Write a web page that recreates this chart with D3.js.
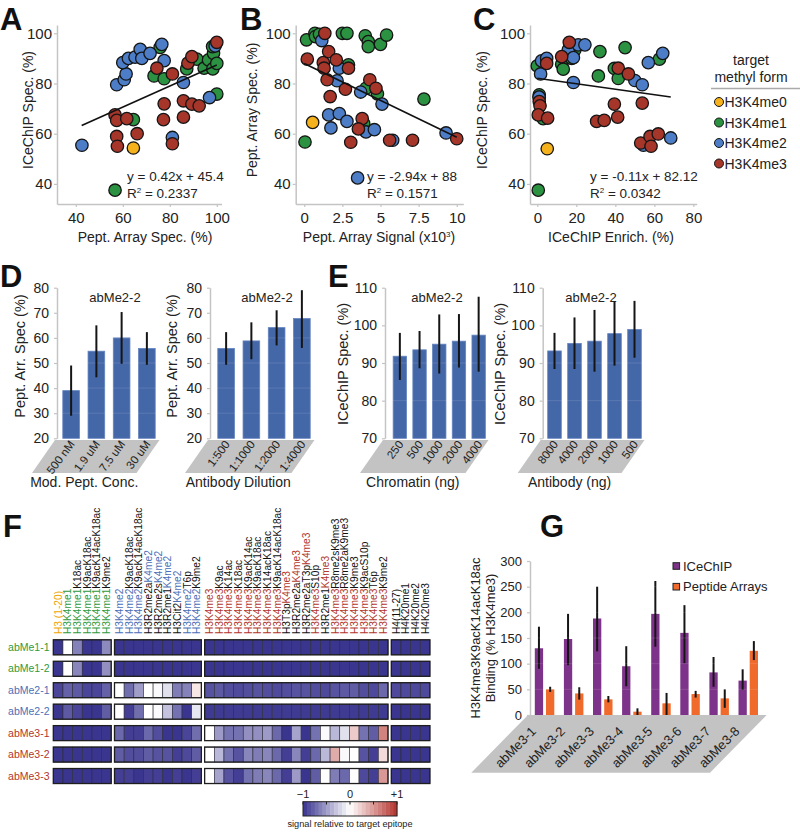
<!DOCTYPE html>
<html><head><meta charset="utf-8">
<script src="https://cdn.jsdelivr.net/npm/d3@7"></script>
<style>body{margin:0;background:#fff}svg{display:block;font-family:"Liberation Sans",Arial,sans-serif}</style>
</head><body><svg id="c" width="800" height="836"></svg>
<script>
// ---------------- DATA ----------------
// Scatter A: x = Pept. Array Spec (%), y = ICeChIP Spec (%)
const A_me0 = [[64.5,54.3]];
const A_me1 = [[75.9,94.4],[73.3,83],[77.6,81.9],[87.2,85.8],[91.5,89.7],[94.6,86.1],[96.5,89.4],[98.3,85.8],[98.6,92],[100,88],[98.2,94.7],[100,75.8],[64.5,65.6],[56.7,37.5]];
const A_me2 = [[42.6,55.4],[57.4,79.5],[60.6,81.5],[61.4,83.8],[60,88.3],[62.4,90],[65.2,90.5],[67.4,93.6],[68.1,90],[71.6,92],[76.6,95.6],[77.6,89.1],[85.8,80.4],[81.1,58.5],[96.9,74.4],[99.3,95]];
const A_me3 = [[74.5,86.1],[81.1,83.8],[87.7,88.1],[89.4,90.7],[100,96.4],[56.7,67.5],[57.4,65.3],[61.7,66],[77.6,71.9],[77.3,65.6],[85.8,73.1],[89.4,71.8],[92.5,71.1],[85.8,66.6],[57.4,58.9],[57.7,55],[66.1,60],[81.1,56]];
// Scatter B: x = Pept. Array Signal (x10^3), y = Pept. Array Spec (%)
const B_me0 = [[0.55,64.5]];
const B_me1 = [[0.15,97.4],[0.7,100],[0.74,98.7],[1.0,99.6],[2.5,100],[2.8,100],[4.0,99],[4.2,96.7],[4.2,94.7],[5.0,95.6],[5.4,99.3],[2.9,87.4],[4.05,78.1],[4.8,75.9],[7.85,73.8],[3.9,64],[0.05,56.7]];
const B_me2 = [[1.15,97.1],[2.3,86.1],[2.15,81.1],[3.7,76.6],[5.1,71.8],[1.6,67.5],[2.3,68],[1.75,62.3],[2.8,64.9],[4.05,60.7],[4.6,61.6],[5.8,57.4],[9.3,60.3],[3.5,42.4]];
const B_me3 = [[1.35,100],[0.2,89.7],[1.25,88.3],[1.3,86.1],[1.6,92.7],[2.1,89.4],[2.9,86.1],[1.5,81.5],[1.7,74.8],[2.7,77.7],[4.3,81.5],[4.7,78.1],[3.8,66],[3.55,61.9],[3.05,56.6],[5.6,57.4],[7.1,57.4],[10.0,58]];
// Scatter C: x = ICeChIP Enrich. (%), y = ICeChIP Spec (%)
const C_me0 = [[5.1,54]];
const C_me1 = [[0,87],[1,75.5],[1,74.6],[3,66],[0.5,37.5],[12.5,87.7],[13.3,85.7],[17.6,90],[19.3,93.4],[32.1,92.7],[31.3,83],[39.5,86],[41.5,82],[45,94.3],[62.6,89.7]];
const C_me2 = [[1.7,83.8],[2.2,89],[4.8,90],[0.9,74.6],[15.9,93.4],[18.5,90.3],[21,95.4],[24.4,95.4],[18.5,80.4],[50,81.2],[53.8,79.5],[56.9,88.3],[64.3,92],[68.4,58.3],[54.4,55.4]];
const C_me3 = [[4.8,88],[12.5,90.7],[16.4,96.4],[41.5,86.1],[46.7,83.8],[1,72.8],[1.4,71.1],[0.5,67.5],[5.3,66.2],[39.5,71.8],[53.8,72.2],[41.2,66.6],[30.4,64.9],[34.3,65.3],[53,56.3],[57.8,58.9],[62,59.9],[58.3,55]];
// Linear fits [slope, intercept, xStart, xEnd]
const fitA = [0.42, 45.4, 42.5, 100];
const fitB = [-2.94, 88, 0, 10];
const fitC = [-0.11, 82.12, 0, 68.4];
const methylForms = ["H3K4me0","H3K4me1","H3K4me2","H3K4me3"];
const scatterYTicks = [40,60,80,100];

// Panel D
const dConcCats = ["500 nM","1.9 uM","7.5 uM","30 uM"];
const dConcVals = [39, 54.7, 60, 55.8];
const dConcErr = [[29,49],[44.3,65],[49.7,70.3],[49.3,62.3]];
const dDilCats = ["1:500","1:1000","1:2000","1:4000"];
const dDilVals = [55.8, 58.8, 64.1, 67.7];
const dDilErr = [[49.3,62.3],[51.5,66.2],[57,71],[56,79]];
const dTicks = [20,30,40,50,60,70,80];
// Panel E
const eChromCats = ["250","500","1000","2000","4000"];
const eChromVals = [91.8, 93.5, 95, 95.8, 97.4];
const eChromErr = [[85.5,98],[88.6,98.5],[87.2,102.9],[88.8,103],[87.7,107.6]];
const eAbCats = ["8000","4000","2000","1000","500"];
const eAbVals = [93.2, 95.2, 95.8, 97.8, 98.9];
const eAbErr = [[88.4,98],[88.4,102.1],[87.7,104.1],[89.3,106.3],[91.4,106.5]];
const eTicks = [70,80,90,100,110];

// Panel F heatmap
const hmRows = ["abMe1-1","abMe1-2","abMe2-1","abMe2-2","abMe3-1","abMe3-2","abMe3-3"];
const hmGroup1 = ["H3 (1-20)","H3K4me1","H3K4me1K18ac","H3K4me1K9acK18ac","H3K4me1K9acK14acK18ac","H3K4me1K9me2"];
const hmGroup2 = ["H3K4me2","H3K4me2K9acK18ac","H3K4me2K9acK14acK18ac","H3R2me2aK4me2","H3R2me2sK4me2","H3R2me1K4me2","H3Cit2K4me2","H3K4me2T6p","H3K4me2K9me2"];
const hmGroup3 = ["H3K4me3","H3K4me3K9ac","H3K4me3K14ac","H3K4me3K18ac","H3K4me3K9acK14ac","H3K4me3K9acK18ac","H3K4me3K14acK18ac","H3K4me3K9acK14acK18ac","H3T3pK4me3","H3R2me2aK4me3","H3R2me2aT3pK4me3","H3K4me3S10p","H3R2me1K4me3","H3K4me3R8me2sK9me3","H3K4me3R8me2aK9me3","H3K4me3K9me3","H3K4me3K9acS10p","H3K4me3T6p","H3K4me3K9me2"];
const hmGroup4 = ["H4(11-27)","H4K20me1","H4K20me2","H4K20me3"];
const hmValues = [
 [-1,0,-0.62,-1,-1,-0.58, -1,-1,-1,-1,-1,-1,-1,-1,-1, -1,-1,-1,-1,-1,-1,-1,-1,-1,-1,-1,-1,-1,-1,-1,-1,-1,-1,-1, -1,-1,-1,-1],
 [-1,0,-0.6,-1,-1,-0.55, -1,-1,-1,-1,-1,-1,-1,-1,-1, -1,-1,-1,-1,-1,-1,-1,-1,-1,-1,-1,-1,-1,-1,-1,-1,-1,-1,-1, -1,-1,-1,-1],
 [-0.92,-0.78,-0.82,-0.92,-0.92,-0.78, 0,-0.72,-0.48,0,-0.03,-0.15,-0.65,-0.62,0.12, -0.85,-0.82,-0.88,-0.9,-0.88,-0.85,-0.88,-0.9,-0.88,-0.85,-0.85,-0.88,-0.9,-0.85,-0.82,-0.8,-0.88,-0.9,-0.75, -0.9,-0.9,-0.9,-0.9],
 [-1,-0.82,-0.92,-1,-1,-0.8, 0,-0.95,-0.72,0,-0.02,-0.3,-0.7,-1,-0.12, -0.97,-0.97,-0.97,-0.97,-0.97,-0.97,-0.97,-0.97,-0.97,-0.97,-0.97,-0.97,-0.97,-0.97,-0.97,-0.97,-0.97,-0.97,-0.97, -1,-1,-1,-1],
 [-1,-1,-1,-1,-1,-1, -0.75,-0.95,-0.95,-0.75,-0.88,-1,-1,-0.92,-0.72, 0,-0.5,-0.7,-0.7,-0.55,-0.55,-0.5,-0.75,-1,-0.45,-1,-0.7,-0.02,-0.35,-0.15,0.25,-0.7,-0.8,0.6, -1,-1,-1,-1],
 [-1,-1,-1,-1,-1,-1, -0.8,-0.88,-0.88,-0.8,-0.85,-0.85,-0.95,-0.9,-0.8, 0,-0.35,-0.7,-0.85,-0.6,-0.65,-0.6,-0.75,-0.95,-0.6,-0.95,-0.75,-0.35,0.4,-0.03,0,-0.85,-0.95,0.18, -1,-1,-1,-1],
 [-1,-1,-1,-1,-1,-1, -0.95,-0.95,-1,-0.95,-0.95,-1,-0.95,-1,-0.95, 0,-0.45,-0.85,-0.95,-0.7,-0.65,-0.6,-0.75,-0.95,-0.5,-1,-0.8,0,-0.65,-0.75,0,-0.9,-0.95,0.5, -1,-1,-1,-1]
];
const cbTicks = [-1,0,1];
const cbTickLabels = ["\u22121","0","+1"];

// Panel G
const gLabels = ["abMe3-1","abMe3-2","abMe3-3","abMe3-4","abMe3-5","abMe3-6","abMe3-7","abMe3-8"];
const gIce = [130, 148, 188, 95, 197, 160, 83, 67];
const gIceErr = [[90,172],[97,197],[124,250],[56,134],[133,261],[101,214],[55,113],[49,89]];
const gPep = [50, 42, 30.5, 6.5, 22.7, 40.8, 32.4, 125];
const gPepErr = [[45,55],[30,54],[24.6,37],[0,13],[0,43],[34,47],[14,50],[107,144]];
const gTicks = [0,50,100,150,200,250,300];
const gSeries = ["ICeChIP","Peptide Arrays"];

// ---------------- STYLE ----------------
const COL = {me0:"#f6b21c", me1:"#2b9242", me2:"#4c7dc6", me3:"#a6352a"};
const TXT = {y:"#f0a500", g:"#2f9a3c", b:"#4a70b8", r:"#b3362b"};
const BAR = "#4467a8";
const AX = "#c4c4c4";
const svg = d3.select("#c");

function styleAxis(sel, fs){
  sel.select(".domain").attr("stroke",AX).attr("stroke-width",1.5);
  sel.selectAll(".tick line").attr("stroke",AX).attr("stroke-width",1.2);
  sel.selectAll(".tick text").attr("fill","#222").attr("font-size",fs).attr("font-family","Liberation Sans, Arial, sans-serif");
}
function letter(t,x,y){
  svg.append("text").attr("x",x).attr("y",y).attr("font-size",31).attr("font-weight","bold").attr("fill","#111").text(t);
}

// ---------------- SCATTERS ----------------
function scatter(cfg){
  const x = d3.scaleLinear().domain(cfg.xDomain).range(cfg.xRange);
  const y = d3.scaleLinear().domain([32,103.3]).range([204,25]);
  const g = svg.append("g");
  g.append("g").attr("transform",`translate(${cfg.xRange[0]},0)`)
    .call(d3.axisLeft(y).tickValues(scatterYTicks).tickSize(3).tickSizeOuter(0).tickPadding(2))
    .call(styleAxis,15);
  g.append("g").attr("transform","translate(0,204)")
    .call(d3.axisBottom(x).tickValues(cfg.xTicks).tickFormat(cfg.fmt||d3.format("d")).tickSize(3).tickSizeOuter(0).tickPadding(5))
    .call(styleAxis,15);
  const series = [[cfg.d[1],COL.me1],[cfg.d[2],COL.me2],[cfg.d[3],COL.me3],[cfg.d[0],COL.me0]];
  series.forEach(([data,c])=>{
    g.selectAll(null).data(data).join("circle")
      .attr("cx",d=>x(d[0])).attr("cy",d=>y(d[1])).attr("r",6.2)
      .attr("fill",c).attr("stroke","#151515").attr("stroke-width",1.3);
  });
  const f = cfg.fit;
  g.append("line").attr("x1",x(f[2])).attr("y1",y(f[0]*f[2]+f[1]))
    .attr("x2",x(f[3])).attr("y2",y(f[0]*f[3]+f[1])).attr("stroke","#111").attr("stroke-width",1.6);
  g.append("text").attr("x",cfg.eqX).attr("y",181).attr("font-size",13.5).attr("fill","#222").text(cfg.eq);
  const r = g.append("text").attr("x",cfg.eqX).attr("y",198).attr("font-size",13.5).attr("fill","#222");
  r.append("tspan").text("R");
  r.append("tspan").attr("font-size",8).attr("dy",-5).text("2");
  r.append("tspan").attr("dy",5).text(" = "+cfg.r2);
  g.append("text").attr("transform",`translate(${cfg.yTitleX},110) rotate(-90)`).attr("text-anchor","middle")
    .attr("font-size",14).attr("fill","#222").text(cfg.yTitle);
  g.append("text").attr("x",cfg.xTitleX).attr("y",242).attr("text-anchor","middle")
    .attr("font-size",14).attr("fill","#222").text(cfg.xTitle);
}
scatter({xDomain:[32,102],xRange:[57,221.5],xTicks:[40,60,80,100],d:[A_me0,A_me1,A_me2,A_me3],fit:fitA,
  eq:"y = 0.42x + 45.4",r2:"0.2337",eqX:127,yTitle:"ICeChIP Spec. (%)",yTitleX:33,xTitle:"Pept. Array Spec. (%)",xTitleX:145});
scatter({xDomain:[-0.56,10.43],xRange:[295.7,463.3],xTicks:[0,2.5,5,7.5,10],fmt:d=>String(d),d:[B_me0,B_me1,B_me2,B_me3],fit:fitB,
  eq:"y = -2.94x + 88",r2:"0.1571",eqX:367,yTitle:"Pept. Array Spec. (%)",yTitleX:257,xTitle:"",xTitleX:379});
svg.append("text").attr("x",379).attr("y",242).attr("text-anchor","middle").attr("font-size",14).attr("fill","#222")
  .call(t=>{t.append("tspan").text("Pept. Array Signal (x10");t.append("tspan").attr("font-size",8).attr("dy",-5).text("3");t.append("tspan").attr("dy",5).text(")");});
scatter({xDomain:[-3.74,81.7],xRange:[530,696.7],xTicks:[0,20,40,60,80],d:[C_me0,C_me1,C_me2,C_me3],fit:fitC,
  eq:"y = -0.11x + 82.12",r2:"0.0342",eqX:590,yTitle:"ICeChIP Spec. (%)",yTitleX:487,xTitle:"ICeChIP Enrich. (%)",xTitleX:611});
letter("A",0,30); letter("B",240,30); letter("C",473,30);

// legend
svg.append("text").attr("x",751).attr("y",65).attr("text-anchor","middle").attr("font-size",14).attr("fill","#222").text("target");
svg.append("text").attr("x",751).attr("y",82).attr("text-anchor","middle").attr("font-size",14).attr("fill","#222").text("methyl form");
svg.append("line").attr("x1",711).attr("x2",800).attr("y1",88.5).attr("y2",88.5).attr("stroke","#aaa").attr("stroke-width",1.5);
const legY = d3.scalePoint().domain(methylForms).range([102,163.5]);
const legCol = [COL.me0,COL.me1,COL.me2,COL.me3];
methylForms.forEach((m,i)=>{
  svg.append("circle").attr("cx",719).attr("cy",legY(m)).attr("r",4.5).attr("fill",legCol[i]).attr("stroke","#151515").attr("stroke-width",1);
  svg.append("text").attr("x",724.5).attr("y",legY(m)).attr("dy","0.36em").attr("font-size",14).attr("fill","#222").text(m);
});

// ---------------- BAR CHARTS D/E ----------------
function barChart(cfg){
  const y = d3.scaleLinear().domain(cfg.yDomain).range([438.3,287.7]);
  const x = d3.scaleBand().domain(cfg.cats).range(cfg.xRange).paddingInner(cfg.pad).paddingOuter(cfg.pad/2);
  const g = svg.append("g");
  const ax = cfg.axisX, xr = cfg.xRange[1];
  g.append("polygon").attr("points",[[ax-2,440],[xr,440],[xr-23,473],[ax-25,473]].map(p=>p.join(",")).join(" "))
    .attr("fill","#c3c3c3");
  g.append("g").attr("transform",`translate(${ax},0)`)
    .call(d3.axisLeft(y).tickValues(cfg.ticks).tickSize(3).tickSizeOuter(0).tickPadding(5))
    .call(styleAxis,14);
  g.selectAll(null).data(cfg.vals).join("rect")
    .attr("x",(d,i)=>x(cfg.cats[i])).attr("width",x.bandwidth())
    .attr("y",d=>y(d)).attr("height",d=>y(cfg.yDomain[0])-y(d))
    .attr("fill",BAR).attr("stroke","#6484c0").attr("stroke-width",0.8);
  g.selectAll(null).data(cfg.ticks.slice(1)).join("line")
    .attr("x1",ax+1).attr("x2",xr).attr("y1",d=>y(d)).attr("y2",d=>y(d))
    .attr("stroke","#fff").attr("stroke-opacity",0.12);
  g.selectAll(null).data(cfg.errs).join("line")
    .attr("x1",(d,i)=>x(cfg.cats[i])+x.bandwidth()/2).attr("x2",(d,i)=>x(cfg.cats[i])+x.bandwidth()/2)
    .attr("y1",d=>y(d[0])).attr("y2",d=>y(d[1])).attr("stroke","#151515").attr("stroke-width",2);
  g.append("text").attr("x",cfg.titleX).attr("y",302).attr("text-anchor","middle").attr("font-size",13).attr("fill","#222").text("abMe2-2");
  g.selectAll(null).data(cfg.cats).join("text")
    .attr("transform",d=>`translate(${x(d)+x.bandwidth()/2+1},442) rotate(-53)`)
    .attr("text-anchor","end").attr("dy","0.35em").attr("font-size",11.5).attr("fill","#222").text(d=>d);
  g.append("text").attr("transform",`translate(${cfg.yTitleX},${cfg.yTitleY}) rotate(-90)`).attr("text-anchor","middle")
    .attr("font-size",14.5).attr("fill","#222").text(cfg.yTitle);
  g.append("text").attr("x",((ax-25)+(xr-23))/2).attr("y",487).attr("text-anchor","middle")
    .attr("font-size",14).attr("fill","#222").text(cfg.xTitle);
}
barChart({cats:dConcCats,vals:dConcVals,errs:dConcErr,xRange:[58.5,159.5],pad:0.34,axisX:57,yDomain:[20,80],ticks:dTicks,
  titleX:115,yTitle:"Pept. Arr. Spec (%)",yTitleX:25,yTitleY:356,xTitle:"Mod. Pept. Conc."});
barChart({cats:dDilCats,vals:dDilVals,errs:dDilErr,xRange:[213.5,314.5],pad:0.34,axisX:210,yDomain:[20,80],ticks:dTicks,
  titleX:267,yTitle:"Pept. Arr. Spec (%)",yTitleX:177,yTitleY:356,xTitle:"Antibody Dilution"});
barChart({cats:eChromCats,vals:eChromVals,errs:eChromErr,xRange:[390,488.5],pad:0.32,axisX:385,yDomain:[70,110],ticks:eTicks,
  titleX:437,yTitle:"ICeChIP Spec. (%)",yTitleX:348,yTitleY:364,xTitle:"Chromatin (ng)"});
barChart({cats:eAbCats,vals:eAbVals,errs:eAbErr,xRange:[544.5,644.5],pad:0.32,axisX:542.7,yDomain:[70,110],ticks:eTicks,
  titleX:591,yTitle:"ICeChIP Spec. (%)",yTitleX:505,yTitleY:364,xTitle:"Antibody (ng)"});
letter("D",0,287); letter("E",328,287);

// ---------------- HEATMAP F ----------------
const groups = [hmGroup1,hmGroup2,hmGroup3,hmGroup4];
const cols = [];
groups.forEach((gr,gi)=>gr.forEach(l=>cols.push({label:l,g:gi})));
const cellW = 9.65, gap = 3.3;
const hx = d3.scaleBand().domain(d3.range(cols.length)).range([53.3,53.3+cols.length*cellW]);
const colX = i => hx(i) + cols[i].g*gap;
const hy = d3.scaleBand().domain(hmRows).range([636.6,786.75]).paddingInner(0.3).paddingOuter(0.15);
const hc = d3.scaleLinear().domain([-1,0,1]).range(["#3a358f","#ffffff","#b2302a"]);
const fg = svg.append("g");
hmRows.forEach((r,ri)=>{
  fg.selectAll(null).data(hmValues[ri]).join("rect")
    .attr("x",(d,i)=>colX(i)).attr("y",hy(r)).attr("width",cellW).attr("height",hy.bandwidth())
    .attr("fill",d=>hc(d)).attr("stroke","#2a2a3a").attr("stroke-width",0.6);
  let start=0;
  groups.forEach((gr,gi)=>{
    fg.append("rect").attr("x",colX(start)).attr("y",hy(r)).attr("width",gr.length*cellW).attr("height",hy.bandwidth())
      .attr("fill","none").attr("stroke","#1e1e1e").attr("stroke-width",1.3);
    start+=gr.length;
  });
  const rc = r.startsWith("abMe1")?TXT.g:r.startsWith("abMe2")?TXT.b:TXT.r;
  fg.append("text").attr("x",49.5).attr("y",hy(r)+hy.bandwidth()/2).attr("dy","0.35em").attr("text-anchor","end")
    .attr("font-size",10.5).attr("fill",rc).text(r);
});
function labelParts(s){
  if (s.startsWith("H3 (")) return [[s,TXT.y]];
  const m = s.match(/K4me([123])/);
  if (!m) return [[s,"#111"]];
  const c = {1:TXT.g,2:TXT.b,3:TXT.r}[m[1]];
  if (s.startsWith("H3K4me")) return [[s.slice(0,7),c],[s.slice(7),"#111"]];
  const i = s.indexOf(m[0]);
  return [[s.slice(0,i),"#111"],[m[0],c],[s.slice(i+5),"#111"]];
}
cols.forEach((c,i)=>{
  const t = fg.append("text").attr("transform",`translate(${colX(i)+cellW/2+3.7},634) rotate(-90)`)
    .attr("font-size",10.2);
  labelParts(c.label).forEach(([s,col])=>{ if(s) t.append("tspan").attr("fill",col).text(s); });
});
// colorbar
const cbx = d3.scaleLinear().domain([-1,1]).range([303,397]);
const steps = d3.range(24);
fg.selectAll(null).data(steps).join("rect")
  .attr("x",d=>cbx(-1+d*2/24)).attr("width",94/24+0.3).attr("y",801.7).attr("height",14.3)
  .attr("fill",d=>hc(-1+(d+0.5)*2/24));
fg.append("rect").attr("x",303).attr("y",801.7).attr("width",94).attr("height",14.3).attr("fill","none").attr("stroke","#222").attr("stroke-width",1);
fg.selectAll(null).data([-1,-0.5,0,0.5,1]).join("line").attr("x1",d=>cbx(d)).attr("x2",d=>cbx(d)).attr("y1",801.7).attr("y2",804.5).attr("stroke","#222");
fg.selectAll(null).data(cbTicks).join("text").attr("x",d=>cbx(d)).attr("y",798).attr("text-anchor","middle")
  .attr("font-size",11).attr("fill","#222").text((d,i)=>cbTickLabels[i]);
fg.append("text").attr("x",350).attr("y",827).attr("text-anchor","middle").attr("font-size",9.2).attr("fill","#222").text("signal relative to target epitope");
letter("F",3,537);

// ---------------- PANEL G ----------------
const gy = d3.scaleLinear().domain([0,300]).range([715,561]);
const gx0 = d3.scaleBand().domain(gLabels).range([530,762.8]).paddingInner(0.33).paddingOuter(0.165);
const gx1 = d3.scaleBand().domain(gSeries).range([0,gx0.bandwidth()]).paddingInner(0.26);
const GG = svg.append("g");
GG.append("polygon").attr("points",[[528,715],[766.7,715],[710,772.7],[471.3,772.7]].map(p=>p.join(",")).join(" ")).attr("fill","#c3c3c3");
GG.append("g").attr("transform","translate(530,0)")
  .call(d3.axisLeft(gy).tickValues(gTicks).tickSize(3).tickSizeOuter(0).tickPadding(5)).call(styleAxis,13);
const gCol = ["#7d3389","#ef6a2b"];
[[gIce,gIceErr],[gPep,gPepErr]].forEach(([vals,errs],si)=>{
  GG.selectAll(null).data(vals).join("rect")
    .attr("x",(d,i)=>gx0(gLabels[i])+gx1(gSeries[si])).attr("width",gx1.bandwidth())
    .attr("y",d=>gy(d)).attr("height",d=>gy(0)-gy(d)).attr("fill",gCol[si]);
  GG.selectAll(null).data(errs).join("line")
    .attr("x1",(d,i)=>gx0(gLabels[i])+gx1(gSeries[si])+gx1.bandwidth()/2)
    .attr("x2",(d,i)=>gx0(gLabels[i])+gx1(gSeries[si])+gx1.bandwidth()/2)
    .attr("y1",d=>gy(d[0])).attr("y2",d=>gy(d[1])).attr("stroke","#151515").attr("stroke-width",2);
});
GG.selectAll(null).data(gTicks.slice(1)).join("line").attr("x1",531).attr("x2",762).attr("y1",d=>gy(d)).attr("y2",d=>gy(d))
  .attr("stroke","#fff").attr("stroke-opacity",0.12);
GG.selectAll(null).data(gLabels).join("text")
  .attr("transform",d=>`translate(${gx0(d)+gx0.bandwidth()/2-11},729) rotate(-45)`)
  .attr("text-anchor","end").attr("dy","0.35em").attr("font-size",13).attr("fill","#222").text(d=>d);
GG.append("text").attr("transform","translate(480,638) rotate(-90)").attr("text-anchor","middle").attr("font-size",13).attr("fill","#222").text("H3K4me3K9acK14acK18ac");
GG.append("text").attr("transform","translate(495,638) rotate(-90)").attr("text-anchor","middle").attr("font-size",13).attr("fill","#222").text("Binding (% H3K4me3)");
const gLegY = d3.scalePoint().domain(gSeries).range([566,586.7]);
gSeries.forEach((s,i)=>{
  GG.append("rect").attr("x",673).attr("y",gLegY(s)-3.3).attr("width",6.6).attr("height",6.6).attr("fill",gCol[i]).attr("stroke","#222").attr("stroke-width",1);
  GG.append("text").attr("x",683).attr("y",gLegY(s)).attr("dy","0.36em").attr("font-size",13).attr("fill","#222").text(s);
});
letter("G",540,537);
</script></body></html>
